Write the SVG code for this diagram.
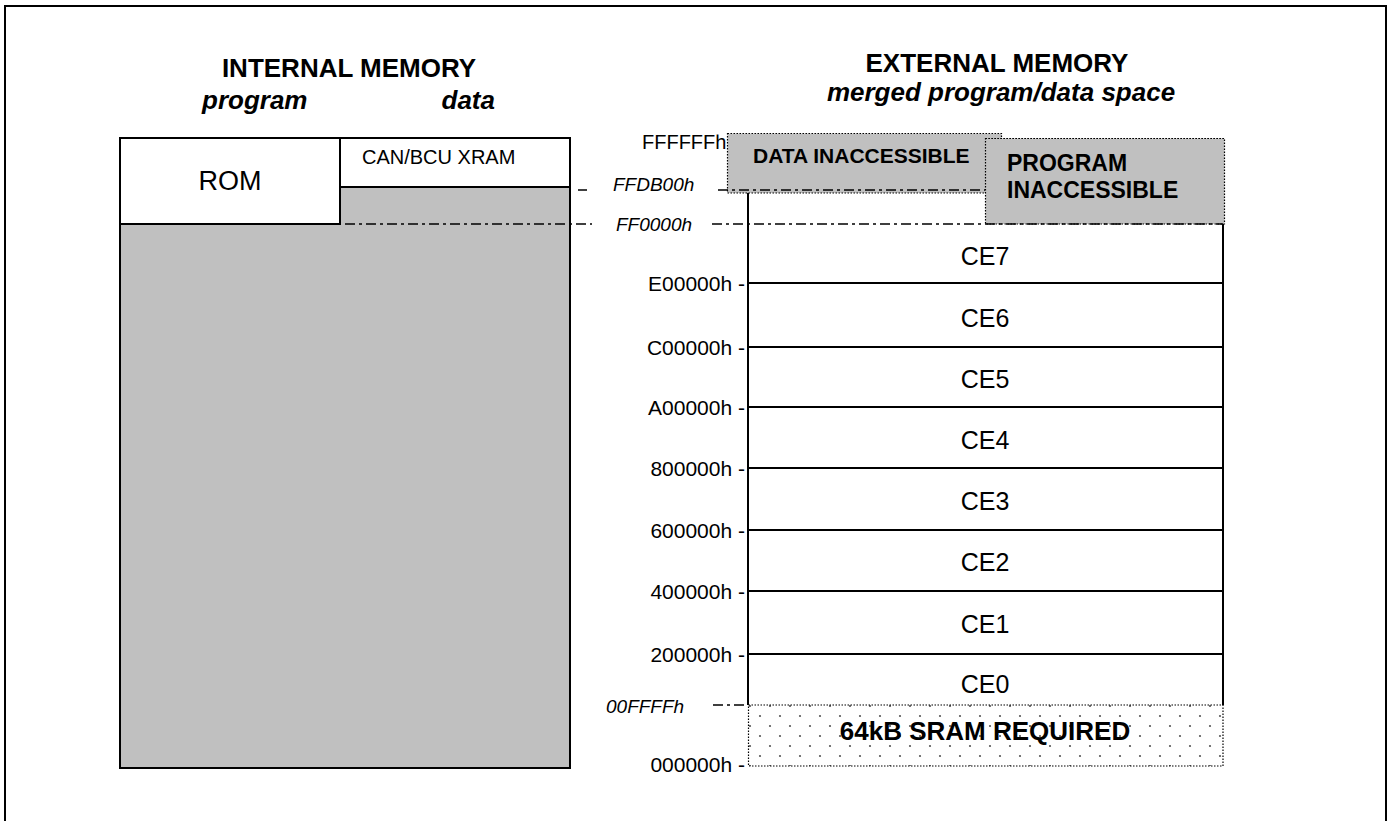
<svg xmlns="http://www.w3.org/2000/svg" width="1390" height="821" viewBox="0 0 1390 821">
<style>
text{font-family:"Liberation Sans",Arial,sans-serif;fill:#000}
.h{font-size:26px;font-weight:bold}
.hi{font-size:26px;font-weight:bold;font-style:italic}
.addr{font-size:21px;text-anchor:end}
.ia{font-size:19px;font-style:italic}
.ce{font-size:25px;text-anchor:middle}
.solid{fill:none;stroke:#000;stroke-width:2}
.gray{fill:#c0c0c0}
.dd{fill:none;stroke:#000;stroke-width:1.5;stroke-dasharray:10 4 3 4}
.dot{stroke:#000;stroke-width:1.2;stroke-dasharray:1.5 1.5}
</style>
<defs>
<pattern id="dots" width="20" height="20" patternUnits="userSpaceOnUse">
<circle cx="0" cy="16" r="1.1" fill="#555"/>
<circle cx="20" cy="16" r="1.1" fill="#555"/>
<circle cx="10" cy="6" r="1.1" fill="#555"/>
</pattern>
<clipPath id="fclip"><rect x="600" y="134.5" width="130" height="20"/></clipPath>
</defs>
<rect x="5" y="6" width="1381" height="840" fill="#fff" stroke="#000" stroke-width="2"/>

<g id="headings">
<text class="h" x="349" y="77" text-anchor="middle">INTERNAL MEMORY</text>
<text class="hi" x="202" y="109">program</text>
<text class="hi" x="495" y="109" text-anchor="end">data</text>
<text class="h" x="997" y="72" text-anchor="middle">EXTERNAL MEMORY</text>
<text class="hi" x="1001" y="101" text-anchor="middle" font-size="25">merged program/data space</text>
</g>

<g id="internal-memory">
<rect x="120" y="138" width="450" height="630" class="gray"/>
<rect x="120" y="138" width="220" height="86" fill="#fff"/>
<rect x="340" y="138" width="230" height="49" fill="#fff"/>
<rect x="120" y="138" width="450" height="630" class="solid"/>
<polyline points="120,224 340,224 340,138" class="solid"/>
<line x1="340" y1="187" x2="570" y2="187" class="solid"/>
<text x="230" y="190" font-size="27" text-anchor="middle">ROM</text>
<text x="362" y="164" font-size="20">CAN/BCU XRAM</text>
</g>

<g id="external-memory">
<rect x="748" y="224" width="475" height="481" fill="#fff"/>
<line x1="748" y1="193" x2="748" y2="705" class="solid"/>
<line x1="1223" y1="224" x2="1223" y2="705" class="solid"/>
<g class="solid">
<line x1="748" y1="283" x2="1223" y2="283"/>
<line x1="748" y1="347" x2="1223" y2="347"/>
<line x1="748" y1="407" x2="1223" y2="407"/>
<line x1="748" y1="468" x2="1223" y2="468"/>
<line x1="748" y1="530" x2="1223" y2="530"/>
<line x1="748" y1="591" x2="1223" y2="591"/>
<line x1="748" y1="654" x2="1223" y2="654"/>
</g>
<text class="ce" x="985" y="265">CE7</text>
<text class="ce" x="985" y="327">CE6</text>
<text class="ce" x="985" y="388">CE5</text>
<text class="ce" x="985" y="449">CE4</text>
<text class="ce" x="985" y="510">CE3</text>
<text class="ce" x="985" y="571">CE2</text>
<text class="ce" x="985" y="633">CE1</text>
<text class="ce" x="985" y="693">CE0</text>
</g>

<g id="sram">
<rect x="748.5" y="705" width="474.5" height="61" fill="#fff"/>
<rect x="748.5" y="705" width="474.5" height="61" fill="url(#dots)" class="dot"/>
<text x="985" y="740" font-size="26" font-weight="bold" text-anchor="middle">64kB SRAM REQUIRED</text>
</g>

<g id="labels">
<text x="642" y="149" font-size="20" clip-path="url(#fclip)">FFFFFFh</text>
<text class="ia" x="613" y="191">FFDB00h</text>
<text class="ia" x="616" y="231">FF0000h</text>
<text class="ia" x="606" y="713" font-size="21">00FFFFh</text>
<text class="addr" x="745" y="291">E00000h -</text>
<text class="addr" x="745" y="355">C00000h -</text>
<text class="addr" x="745" y="415">A00000h -</text>
<text class="addr" x="745" y="476">800000h -</text>
<text class="addr" x="745" y="538">600000h -</text>
<text class="addr" x="745" y="599">400000h -</text>
<text class="addr" x="745" y="662">200000h -</text>
<text class="addr" x="745" y="772">000000h -</text>
</g>

<g id="data-inaccessible">
<rect x="727.5" y="133.5" width="274" height="59.5" class="gray dot"/>
<text x="753" y="163" font-size="21" font-weight="bold">DATA INACCESSIBLE</text>
</g>

<g id="program-inaccessible">
<rect x="985.5" y="138.5" width="239" height="85.5" class="gray dot"/>
<line x1="985.5" y1="138.5" x2="1224.5" y2="138.5" class="dot" stroke-width="2"/>
<text x="1007" y="171" font-size="23" font-weight="bold">PROGRAM</text>
<text x="1007" y="198" font-size="23" font-weight="bold">INACCESSIBLE</text>
</g>

<g id="connectors">
<line x1="578" y1="190" x2="587" y2="190" stroke="#000" stroke-width="1.5"/>
<line x1="718" y1="190" x2="985" y2="190" class="dd"/>
<line x1="345" y1="224" x2="592" y2="224" class="dd"/>
<line x1="712" y1="224" x2="1223" y2="224" class="dd"/>
<line x1="713" y1="705" x2="748" y2="705" class="dd"/>
</g>
</svg>
